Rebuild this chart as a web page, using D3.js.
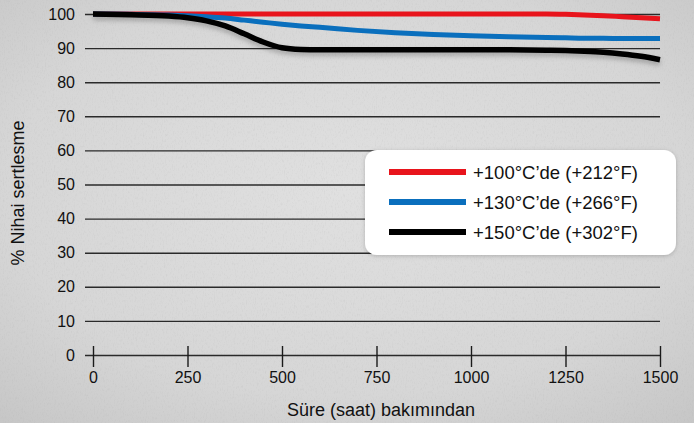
<!DOCTYPE html>
<html>
<head>
<meta charset="utf-8">
<script src="https://cdn.jsdelivr.net/npm/d3@7"></script>
<style>
  html, body { margin: 0; padding: 0; background: #d2d2d2; }
  svg { display: block; font-family: "Liberation Sans", Arial, Helvetica, sans-serif; }
</style>
</head>
<body>
<div id="chart"></div>
<script>
// ---- data ----
const hours = [0,100,200,250,300,350,400,450,500,550,600,700,800,900,1000,1100,1200,1250,1300,1350,1400,1450,1500];
const red100 = [100,100,100,100,100,100,100,100,100,100,100,100,100,100,100,100,100,99.9,99.7,99.5,99.2,98.9,98.6];
const blue130 = [100,99.9,99.7,99.5,99.2,98.8,98.2,97.6,97.0,96.5,96.1,95.2,94.5,94.0,93.6,93.3,93.1,93.0,92.9,92.9,92.8,92.8,92.8];
const black150 = [100,99.8,99.4,98.9,98.0,96.5,94.2,91.8,90.1,89.6,89.5,89.5,89.5,89.5,89.5,89.5,89.4,89.3,89.1,88.8,88.3,87.6,86.6];
const seriesNames = ["+100°C’de (+212°F)", "+130°C’de (+266°F)", "+150°C’de (+302°F)"];
const seriesColors = ["#e8141c", "#0a6fbd", "#000000"];
const xTicks = [0,250,500,750,1000,1250,1500];
const yTicks = [0,10,20,30,40,50,60,70,80,90,100];
const xTitle = "Süre (saat) bakımından";
const yTitle = "% Nihai sertlesme";

const W = 694, H = 423;
const FONT = "Liberation Sans, Arial, Helvetica, sans-serif";
const svg = d3.select("#chart").append("svg").attr("width", W).attr("height", H);

// background (concrete-like)
const defs = svg.append("defs");
const rg = defs.append("radialGradient").attr("id","bg").attr("cx","50%").attr("cy","45%").attr("r","75%");
rg.append("stop").attr("offset","0%").attr("stop-color","#e0e0e0");
rg.append("stop").attr("offset","65%").attr("stop-color","#d6d6d6");
rg.append("stop").attr("offset","100%").attr("stop-color","#c6c6c6");
const nf = defs.append("filter").attr("id","noise").attr("x",0).attr("y",0).attr("width","100%").attr("height","100%");
nf.append("feTurbulence").attr("type","fractalNoise").attr("baseFrequency","0.9 0.35").attr("numOctaves",3).attr("seed",4);
nf.append("feColorMatrix").attr("values","0 0 0 0 0.35  0 0 0 0 0.35  0 0 0 0 0.35  0 0 0 -1.1 0.55");
const sh = defs.append("filter").attr("id","shadow").attr("x","-5%").attr("y","-50%").attr("width","110%").attr("height","300%");
sh.append("feDropShadow").attr("dx",0).attr("dy",3).attr("stdDeviation",2.5).attr("flood-color","#000").attr("flood-opacity",0.25);
const lsh = defs.append("filter").attr("id","lshadow").attr("x","-5%").attr("y","-10%").attr("width","110%").attr("height","130%");
lsh.append("feDropShadow").attr("dx",0).attr("dy",1).attr("stdDeviation",2).attr("flood-color","#000").attr("flood-opacity",0.2);

svg.append("rect").attr("width",W).attr("height",H).attr("fill","url(#bg)");
svg.append("rect").attr("width",W).attr("height",H).attr("filter","url(#noise)").attr("opacity",0.3);

// scales
const x = d3.scaleLinear().domain([0,1500]).range([93,660]);
const y = d3.scaleLinear().domain([0,100]).range([355,14]);

// gridlines
const gridAxis = d3.axisLeft(y).tickValues(yTicks).tickSize(-(660-85)).tickFormat(d => d).tickPadding(10);
const gy = svg.append("g").attr("transform","translate(85,0)").call(gridAxis);
gy.select(".domain").remove();
gy.attr("font-family", FONT);
gy.selectAll(".tick line").attr("stroke","#2a2a2a").attr("stroke-width",1.4);
gy.selectAll(".tick text").attr("font-size",16).attr("fill","#111");

// x axis: ticks crossing baseline
const xAxis = d3.axisBottom(x).tickValues(xTicks).tickSize(12).tickPadding(5).tickFormat(d => d);
const gx = svg.append("g").attr("transform","translate(0,355)").call(xAxis);
gx.select(".domain").remove();
gx.attr("font-family", FONT);
gx.selectAll(".tick line").attr("y1",-9).attr("stroke","#1a1a1a").attr("stroke-width",1.4);
gx.selectAll(".tick text").attr("font-size",16).attr("fill","#111");

// titles
svg.append("text").attr("x",381).attr("y",416).attr("text-anchor","middle")
  .attr("font-size",18).attr("fill","#111").text(xTitle);
svg.append("text").attr("transform","translate(24,193) rotate(-90)").attr("text-anchor","middle")
  .attr("font-size",18).attr("fill","#111").text(yTitle);

// lines
const seriesVals = [red100, blue130, black150];
const line = d3.line().x(d => x(d[0])).y(d => y(d[1])).curve(d3.curveMonotoneX);
seriesVals.forEach((vals, i) => {
  const pts = hours.map((h, j) => [h, vals[j]]);
  svg.append("path").datum(pts).attr("d", line)
    .attr("fill","none").attr("stroke",seriesColors[i])
    .attr("stroke-width", i === 2 ? 5.5 : 5)
    .attr("stroke-linecap","butt")
    .attr("filter", i === 2 ? "url(#shadow)" : null);
});

// legend
const lg = svg.append("g");
lg.append("rect").attr("x",365).attr("y",150).attr("width",311).attr("height",105)
  .attr("rx",12).attr("fill","#ffffff").attr("filter","url(#lshadow)");
seriesNames.forEach((name, i) => {
  const cy = 172 + i*30;
  lg.append("line").attr("x1",389).attr("x2",466).attr("y1",cy).attr("y2",cy)
    .attr("stroke",seriesColors[i]).attr("stroke-width",6);
  lg.append("text").attr("x",473).attr("y",cy).attr("dy","0.36em")
    .attr("font-size",18.5).attr("fill","#111").text(name);
});
</script>
</body>
</html>
